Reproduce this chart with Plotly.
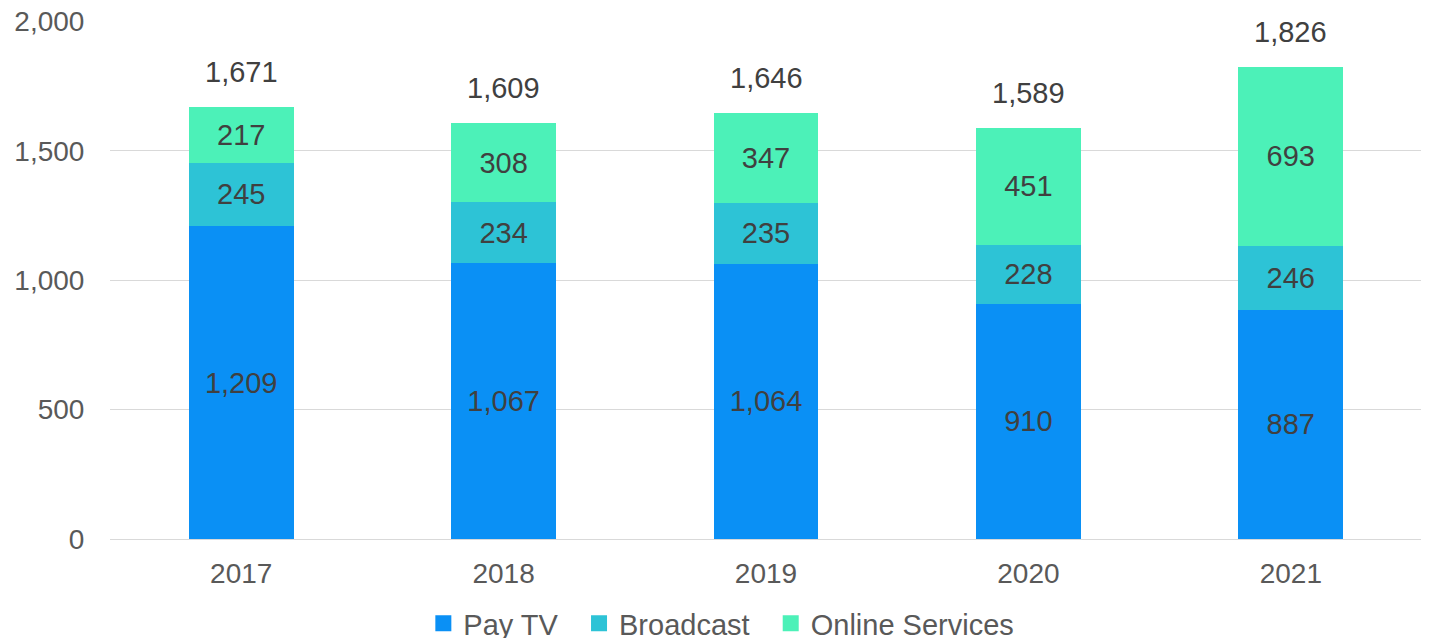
import plotly.graph_objects as go

years = ["2017", "2018", "2019", "2020", "2021"]
pay_tv = [1209, 1067, 1064, 910, 887]
broadcast = [245, 234, 235, 228, 246]
online = [217, 308, 347, 451, 693]
totals = [1671, 1609, 1646, 1589, 1826]
legend_names = ["Pay TV\u00a0\u00a0", "Broadcast\u00a0\u00a0", "Online Services"]

series = [
    ("Pay TV", pay_tv, "#0A90F5"),
    ("Broadcast", broadcast, "#2DC3D6"),
    ("Online Services", online, "#4CF1B8"),
]

FONT = "Liberation Sans, Arial"

fig = go.Figure()
for name, vals, col in series:
    fig.add_trace(go.Bar(
        x=years, y=vals, name=name, marker=dict(color=col, line=dict(width=0)),
        text=[f"{v:,}" for v in vals], textposition="inside",
        insidetextanchor="middle", textangle=0, constraintext="none",
        textfont=dict(family=FONT, size=29, color="#404040"),
        showlegend=False,
    ))
# legend entries with larger square swatches
for (name, vals, col), lname in zip(series, legend_names):
    fig.add_trace(go.Scatter(
        x=[None], y=[None], mode="markers", name=lname,
        marker=dict(symbol="square", size=16, color=col),
    ))

for i, t in enumerate(totals):
    fig.add_annotation(x=i, y=t, xref="x", yref="y", text=f"{t:,}", showarrow=False,
                       yanchor="middle", yshift=35,
                       font=dict(family=FONT, size=29, color="#404040"))

fig.update_layout(
    barmode="stack", bargap=0.6,
    width=1421, height=641,
    margin=dict(l=102, r=7, t=13, b=110),
    plot_bgcolor="white", paper_bgcolor="white",
    font=dict(family=FONT, size=28, color="#595959"),
    legend=dict(orientation="h", x=0.502, xanchor="center", xref="container",
                y=0, yanchor="bottom", yref="container",
                font=dict(size=29, color="#595959"), traceorder="normal",
                itemwidth=30, itemsizing="trace"),
    xaxis=dict(type="category", categoryorder="array", categoryarray=years,
               range=[-0.5, 4.5], showgrid=False, ticks="outside", ticklen=9,
               tickcolor="rgba(0,0,0,0)", automargin=False,
               showline=True, linecolor="#d9d9d9", linewidth=1),
    yaxis=dict(range=[0, 2002], tickvals=[0, 500, 1000, 1500, 2000], tickformat=",",
               showgrid=True, gridcolor="#d9d9d9", gridwidth=1, zeroline=False,
               ticks="outside", ticklen=19, tickcolor="rgba(0,0,0,0)", automargin=False,
               ticklabeloverflow="allow"),
)

fig.write_html("out.html")
